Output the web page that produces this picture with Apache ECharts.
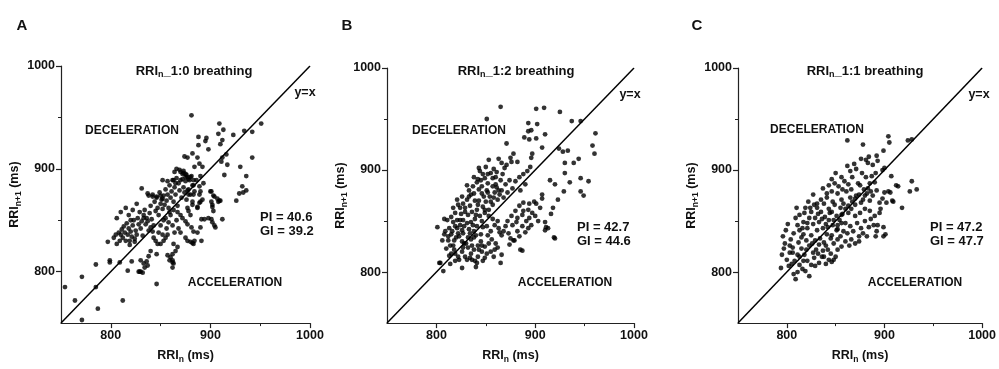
<!DOCTYPE html>
<html><head><meta charset="utf-8">
<script src="https://cdn.jsdelivr.net/npm/echarts@6/dist/echarts.min.js"></script>
<style>html,body{margin:0;padding:0;background:#fff}#c{width:999px;height:369px}</style>
</head><body><div id="c"></div>
<script>
// ---- data ----
const panelLetters = ['A', 'B', 'C'];
const panelTitles = ['1:0 breathing', '1:2 breathing', '1:1 breathing'];
const piValues = ['40.6', '42.7', '47.2'];
const giValues = ['39.2', '44.6', '47.7'];
const axisMin = 750, axisMax = 1000;
const majorTicks = [800, 900, 1000];
const minorTicks = [850, 950];
const identityLine = [[750, 750], [1000, 1000]];

const pointsA = [
[881,952],[909,944],[951,944],[913,938],[934,937],[942,936],[908,934],[923,933],[888,931],[896,930],[895,927],[912,928],[888,923],[910,924],[898,919],[942,911],[874,912],[877,911],[882,915],[887,911],[912,911],[916,914],[911,907],[917,904],[930,902],[889,905],[892,902],[884,902],[866,900],[869,899],[864,897],[873,896],[876,894],[890,893],[914,894],[936,893],[932,883],[936,879],[929,876],[933,877],[926,869],[901,878],[904,873],[909,869],[901,868],[902,865],[889,875],[892,870],[889,867],
[891,851],[894,851],[898,852],[901,851],[902,848],[904,845],[912,851],[884,830],[891,830],[905,843],
[754,785],[764,772],[771,753],[771,795],[787,764],[785,785],[812,772],[846,788],[785,807],
[799,811],[799,809],[809,809],[817,801],[821,810],[829,800],[832,799],[830,800],[834,804],[836,810],[838,815],[840,820],[846,817],[857,816],[859,811],[862,809],[806,827],[809,830],[797,829],[803,833],[805,836],[808,838],[819,830],[824,832],
[806,852],[810,836],[811,841],[812,833],[813,844],[814,838],[815,830],[816,847],[817,836],[818,842],[819,826],[820,839],[821,834],[822,845],[823,850],[824,829],[825,840],[826,836],[827,852],[828,846],[829,858],[830,842],[831,849],[832,835],[833,855],[834,860],[835,846],[836,852],[837,876],[838,840],[839,857],[840,864],[841,851],[842,873],[843,845],[844,868],[845,859],[846,872],[847,862],[848,855],[849,877],[850,866],[851,870],[852,861],[853,874],[854,865],[855,880],[856,869],[857,875],[858,862],[859,884],[860,872],[861,878],[862,889],[863,868],[864,882],[865,875],[866,891],[867,864],[868,886],[869,879],[870,889],[871,872],[872,895],[873,882],[874,877],[875,888],[876,870],[877,892],[878,880],[879,889],[880,875],[881,893],[882,868],[883,884],[884,878],[886,889],[887,862],[889,883],[890,878],[893,886],
[831,881],[838,874],[842,875],[846,873],[850,874],[852,871],[852,889],[857,888],[863,889],[865,886],[872,890],[875,892],[878,890],[880,892],[883,889],[870,897],[873,898],[875,895],[882,884],[877,879],[878,875],[883,875],
[882,865],[887,863],[890,868],[877,862],[878,859],[880,855],[870,855],[872,852],[875,849],[877,846],[881,843],[883,839],[887,838],[890,843],[875,833],[877,830],[880,829],[882,828],[883,827],[863,827],[867,824],[865,820],[862,817],[860,814],[862,811],[863,808],[862,804],[900,878],[903,874],[907,871],[908,868],[910,869],[902,863],[903,859],
[833,852],[837,849],[840,843],[842,839],[843,833],[845,830],[847,827],[850,827],[853,830],[855,833],[857,836],[830,811],[833,808],[837,806],[828,800],
[850,845],[853,850],[856,842],[858,848],[860,855],[862,845],[864,838],[866,850],[868,842],[870,838],[848,838],[852,836],[855,852],[859,858],[863,860],[867,858],
[810,858],[815,862],[818,855],[822,860],[826,866],[820,850]
];

const pointsB = [
[865,962],[901,960],[909,961],[925,957],[851,950],[946,948],[937,948],[893,946],[902,945],[893,938],[896,939],[910,935],[961,936],[889,932],[894,930],[901,931],[871,926],[958,924],[960,916],[907,922],[924,921],[928,918],[933,919],[878,916],[897,916],[896,912],[853,910],[863,911],[866,907],[875,912],[876,908],[882,908],[944,911],[939,907],[930,907],[930,897],[946,892],[954,889],[915,890],[920,886],[935,888],[929,879],[946,879],[949,875],[907,876],[907,872],[923,871],[918,863],[916,857],[910,841],[911,844],[919,834],[885,822],[879,831],[866,817],[865,809],
[807,801],[803,809],[801,844],[808,852],[826,804],[840,805],[804,809],[814,808],[819,811],[831,812],[834,814],[839,811],[841,809],[847,811],[849,814],[887,821],
[878,831],[874,827],[884,835],[890,839],[893,843],[896,846],[910,849],[913,843],[920,833],[866,836],[864,839],[863,843],[877,846],[881,849],[882,853],[887,856],[888,860],[893,861],[894,867],[899,869],[901,867],[905,863],[882,840],[887,845],[891,850],[894,853],[880,860],[884,865],[876,855],[872,850],[870,845],[868,840],[900,855],[903,850],[897,858],[888,868],[873,838],[875,833],
[859,822],[855,820],[851,818],[849,825],[845,830],[842,826],[838,822],[835,818],[832,824],[828,828],[826,820],[822,815],[818,822],[829,815],[836,826],[840,836],[845,837],[847,844],[852,836],[856,832],[860,828],[862,824],[858,815],[853,828],[846,820],[842,815],[836,812],[832,834],[838,840],[841,845],[846,850],[851,845],[855,840],[859,846],[862,850],[857,852],[853,855],[849,858],
[850,903],[844,899],[847,896],[849,892],[845,890],[855,897],[858,901],[861,898],[860,893],[865,890],[867,896],[869,902],[871,905],[852,887],[857,884],[841,888],[837,884],[843,881],[846,877],[851,880],[854,874],[859,878],[861,883],[866,880],[870,886],[874,890],[835,876],[831,871],[827,867],[834,865],[839,870],[842,866],[847,864],[850,869],[853,861],[857,866],[862,871],[829,859],[825,857],[821,851],[817,849],[813,843],[809,840],[812,831],[815,837],[821,843],[824,846],[827,851],[832,856],[836,859],[841,861],[844,855],[849,861],[819,858],[815,854],[811,851],[824,863],[827,838],[833,842],[835,849],[839,852],[814,826],[818,831],[823,835],[826,841],[810,823],[806,831],[808,837],[821,871],[826,874],[833,880],[831,885],[838,893],[843,902],[852,896],[857,892],[864,876],[868,873],[872,878],[877,882],[880,889],[884,893],[888,896],[892,899],[895,903],[890,886],[885,880],
[816,840],[819,845],[822,838],[828,845],[831,848],[834,838],[837,846],[840,856],[843,870],[846,884],[848,874],[852,878],[855,869],[858,873],[860,886],[863,880],[820,834],[824,851],[829,863],[833,874],[838,877],[842,891],[812,835],[817,863],[822,866],[826,830],[830,828],[835,832],[815,818],[819,818],[823,812],[827,824],[843,822],[846,826],[838,834],[817,826],[813,816]
];

const pointsC = [
[862,929],[904,933],[905,927],[878,925],[924,929],[928,930],[899,919],[892,914],[893,909],[876,911],[881,910],[884,913],[883,907],[888,905],[900,902],[898,900],[907,894],[928,889],[933,881],[926,879],[912,885],[914,884],[904,879],[906,878],[900,878],[918,863],[908,870],[909,869],
[899,844],[899,835],[901,837],[892,840],[893,846],[889,846],[884,844],[891,835],[880,850],[886,852],[890,855],[895,858],[885,860],[880,862],[875,858],[870,855],[872,848],[876,843],[878,838],[882,835],[874,835],[868,840],[865,845],[860,848],[862,838],[866,832],[870,828],[874,830],[860,830],[856,825],[852,822],[855,835],[858,840],[864,826],[848,812],[846,810],[850,815],[843,812],[840,808],[845,818],[838,815],[842,822],[848,828],[852,832],[885,870],[888,875],[892,880],[880,875],[876,868],[870,866],[866,862],[863,858],[895,868],[898,872],[902,868],[896,862],
[794,804],[809,793],[807,798],[811,800],[823,796],[795,817],[797,823],[798,828],[796,835],[801,847],[799,841],[803,826],[806,819],[808,811],[813,807],[816,803],[819,801],[802,806],[805,808],[811,817],[815,823],[818,817],[821,811],[825,807],[829,806],[833,809],[836,815],[827,819],[823,826],[820,831],[817,837],[813,841],[811,846],[809,853],[810,863],[819,863],[822,869],[827,876],[813,856],[817,849],[821,843],[825,836],[829,831],[833,827],[837,821],[831,841],[827,847],[823,853],[818,858],[829,853],[833,849],[837,843],[841,837],[845,833],[835,859],[839,854],[843,851],[847,846],[851,841],[838,867],[843,862],[846,859],[851,855],[854,851],[841,873],[847,869],[849,866],[855,863],[857,857],[846,879],[852,877],[856,871],[858,867],[843,885],[849,887],[853,884],[857,881],[861,879],[865,873],[846,891],[850,897],[856,893],[859,889],[863,886],[866,881],[871,875],[867,893],[873,887],[865,899],[862,904],[869,906],[871,901],[877,897],[881,893],[885,887],[875,885],[879,881],[883,882],[887,894],[891,897],[831,863],[825,859],[835,871],[841,877],[837,882],[831,867],
[804,832],[807,838],[812,829],[815,834],[820,822],[826,828],[830,822],[834,833],[838,829],[842,844],[816,843],[821,848],[824,863],[828,866],[832,857],[836,852],[840,847],[844,858],[848,851],[852,846],[856,856],[860,862],[863,865],[867,869],[870,872],[874,876],[878,871],[882,877],[886,879],[890,888],[800,812],[803,819],[806,824],[813,815],[817,811],[828,814],[832,818],[840,826],[846,836],[852,842],[856,848]
];
const allPoints = [pointsA, pointsB, pointsC];

// ---- layout ----
const grids = [
  {left: 61, top: 66, width: 249, height: 261},
  {left: 387, top: 68, width: 247, height: 260},
  {left: 738, top: 68, width: 248, height: 260}
];
const FONT = 'Liberation Sans, Arial, Helvetica, sans-serif';
const INK = '#111';
const AX = '#222';

const rich = {
  b: {fontFamily: FONT, fontWeight: 'bold', fontSize: 12.5, color: INK},
  s: {fontFamily: FONT, fontWeight: 'bold', fontSize: 8.5, lineHeight: 8.5, padding: [8, 0, 0, 0], color: INK}
};

const xAxes = [], yAxes = [], series = [], graphics = [];
grids.forEach((g, i) => {
  const common = {gridIndex: i, type: 'value', min: axisMin, max: axisMax, interval: 50, splitLine: {show: false}};
  xAxes.push(Object.assign({}, common, {
    position: 'bottom',
    axisLine: {show: true, lineStyle: {color: AX, width: 1.2}},
    axisTick: {show: true, customValues: majorTicks, length: 5, lineStyle: {color: AX, width: 1.2}},
    axisLabel: {customValues: majorTicks, margin: 6, color: INK, fontFamily: FONT, fontWeight: 'bold', fontSize: 12.5,
      formatter: v => (v % 100 === 0 && v > axisMin) ? String(v) : ''},
    name: '{b|RRI}{s|n}{b| (ms)}', nameLocation: 'middle', nameGap: 18,
    nameTextStyle: {rich: rich}
  }));
  xAxes.push(Object.assign({}, common, {
    position: 'bottom', offset: 0,
    axisLine: {show: false}, axisLabel: {show: false},
    axisTick: {show: true, customValues: minorTicks, length: 3, lineStyle: {color: AX, width: 1}}
  }));
  yAxes.push(Object.assign({}, common, {
    position: 'left',
    axisLine: {show: true, lineStyle: {color: AX, width: 1.2}},
    axisTick: {show: true, customValues: majorTicks, length: 5, lineStyle: {color: AX, width: 1.2}},
    axisLabel: {customValues: majorTicks, margin: 6, color: INK, fontFamily: FONT, fontWeight: 'bold', fontSize: 12.5,
      formatter: v => (v % 100 === 0 && v > axisMin) ? String(v) : ''},
    name: '{b|RRI}{s|n+1}{b| (ms)}', nameLocation: 'middle', nameGap: 34, nameRotate: 90,
    nameTextStyle: {rich: rich}
  }));
  yAxes.push(Object.assign({}, common, {
    position: 'left', offset: 0,
    axisLine: {show: false}, axisLabel: {show: false},
    axisTick: {show: true, customValues: minorTicks, length: 3, lineStyle: {color: AX, width: 1}}
  }));
  series.push({
    type: 'line', xAxisIndex: 2 * i, yAxisIndex: 2 * i, data: identityLine,
    symbol: 'none', lineStyle: {color: '#000', width: 1.5}, silent: true, z: 1, animation: false
  });
  series.push({
    type: 'scatter', xAxisIndex: 2 * i, yAxisIndex: 2 * i, data: allPoints[i],
    symbol: 'circle', symbolSize: 4.8, itemStyle: {color: '#000'}, z: 2, animation: false
  });
});

// annotation text positions (pixel)
const textPos = [
  {letter: [22, 26], title: [194, 71], yx: [305, 93], dec: [132, 131], acc: [235, 283], pi: [260, 217]},
  {letter: [347, 26], title: [516, 71], yx: [630, 95], dec: [459, 131], acc: [565, 283], pi: [577, 227]},
  {letter: [697, 26], title: [865, 71], yx: [979, 95], dec: [817, 130], acc: [915, 283], pi: [930, 227]}
];
function txt(x, y, text, size, align, extra) {
  return {type: 'text', x: x, y: y, silent: true, z: 10,
    style: Object.assign({text: text, fill: INK, fontFamily: FONT, fontWeight: 'bold', fontSize: size,
      textAlign: align || 'center', textVerticalAlign: 'middle'}, extra || {})};
}
textPos.forEach((p, i) => {
  graphics.push(txt(p.letter[0], p.letter[1], panelLetters[i], 15));
  graphics.push(txt(p.title[0], p.title[1], '{t|RRI}{s|n}{t|_' + panelTitles[i] + '}', 13, 'center', {
    rich: {
      t: {fontFamily: FONT, fontWeight: 'bold', fontSize: 13, fill: INK},
      s: {fontFamily: FONT, fontWeight: 'bold', fontSize: 9, lineHeight: 9, padding: [8, 0, 0, 0], fill: INK}
    }
  }));
  graphics.push(txt(p.yx[0], p.yx[1], 'y=x', 12.5));
  graphics.push(txt(p.dec[0], p.dec[1], 'DECELERATION', 12));
  graphics.push(txt(p.acc[0], p.acc[1], 'ACCELERATION', 12));
  graphics.push(txt(p.pi[0], p.pi[1], 'PI = ' + piValues[i], 13, 'left'));
  graphics.push(txt(p.pi[0], p.pi[1] + 14.5, 'GI = ' + giValues[i], 13, 'left'));
});

const chart = echarts.init(document.getElementById('c'), null, {renderer: 'canvas'});
chart.setOption({
  animation: false,
  backgroundColor: '#fff',
  grid: grids,
  xAxis: xAxes,
  yAxis: yAxes,
  series: series,
  graphic: graphics
});
</script></body></html>
